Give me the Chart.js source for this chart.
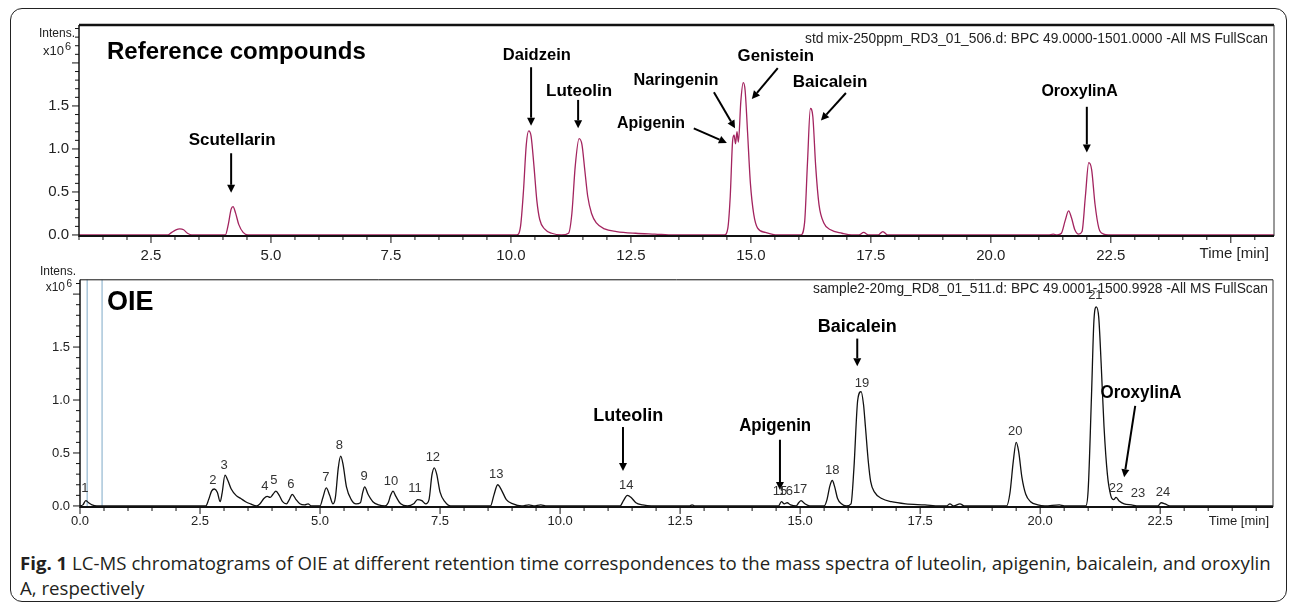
<!DOCTYPE html>
<html>
<head>
<meta charset="utf-8">
<script src="https://cdn.jsdelivr.net/npm/chart.js@4.4.1/dist/chart.umd.min.js"></script>
<style>
  body { margin: 0; background: #fff; width: 1290px; height: 603px; overflow: hidden; position: relative; }
  #frame { position: absolute; left: 10px; top: 8px; width: 1277px; height: 594px; box-sizing: border-box;
           border: 1.5px solid #222; border-radius: 12px; }
  canvas { position: absolute; left: 0; }
  #refChart { top: 0; }
  #sampleChart { top: 262px; }
  #caption { position: absolute; left: 20px; top: 550px; width: 1265px; white-space: nowrap;
             font: 18.65px 'Open Sans', sans-serif; line-height: 25px; color: #231f20; }
  #caption b { font-weight: 700; }
</style>
</head>
<body>
<div id="frame"></div>
<canvas id="refChart" width="1290" height="262"></canvas>
<canvas id="sampleChart" width="1290" height="276"></canvas>
<div id="caption"><b>Fig. 1</b> LC-MS chromatograms of OIE at different retention time correspondences to the mass spectra of luteolin, apigenin, baicalein, and oroxylin<br>A, respectively</div>
<script>
// --- Data: [time (min), intensity (x10^6)] ---
const refTrace = [
  [1.0,0],[2.85,0],[2.93,0.03],[3.02,0.06],[3.1,0.07],[3.18,0.06],[3.26,0.02],[3.35,0],
  [4.05,0],[4.11,0.12],[4.17,0.3],[4.21,0.33],[4.26,0.26],[4.33,0.12],[4.42,0.03],[4.52,0],
  [10.12,0],[10.2,0.1],[10.26,0.5],[10.32,1.05],[10.37,1.21],[10.42,1.15],[10.48,0.8],[10.54,0.4],[10.6,0.18],[10.7,0.07],[10.85,0.02],[11.05,0],
  [11.2,0.02],[11.27,0.25],[11.34,0.8],[11.42,1.12],[11.48,1.05],[11.54,0.75],[11.6,0.45],[11.68,0.25],[11.78,0.14],[11.95,0.07],[12.2,0.04],[12.6,0.02],[13.0,0.01],[13.4,0],
  [14.45,0],[14.52,0.08],[14.57,0.45],[14.62,1.1],[14.65,1.16],[14.68,1.06],[14.71,1.2],[14.74,1.08],[14.79,1.55],[14.84,1.77],[14.88,1.68],[14.93,1.2],[14.99,0.6],[15.06,0.24],[15.14,0.08],[15.3,0.03],[15.55,0],
  [16.04,0],[16.12,0.15],[16.18,0.85],[16.24,1.47],[16.29,1.38],[16.35,0.8],[16.42,0.35],[16.52,0.14],[16.66,0.06],[16.9,0.02],[17.1,0],
  [17.25,0],[17.35,0.03],[17.45,0],[17.65,0],[17.75,0.04],[17.85,0],
  [21.2,0],[21.3,0.01],[21.38,0],[21.47,0.02],[21.55,0.17],[21.62,0.28],[21.68,0.2],[21.75,0.06],[21.83,0.01],
  [21.9,0.04],[21.97,0.45],[22.04,0.84],[22.1,0.76],[22.17,0.36],[22.25,0.08],[22.35,0.01],[22.45,0],[25.9,0]
];

const sampleTrace = [
  [0.0,0],[0.06,0.01],[0.12,0.05],[0.18,0.03],[0.25,0.01],[0.35,0],
  [2.62,0],[2.68,0.06],[2.74,0.14],[2.8,0.16],[2.86,0.13],[2.92,0.04],
  [2.96,0.12],[3.02,0.29],[3.08,0.24],[3.15,0.16],[3.25,0.1],[3.35,0.07],[3.45,0.04],[3.55,0.02],[3.68,0],
  [3.75,0.02],[3.83,0.07],[3.9,0.09],[3.96,0.08],[4.02,0.11],[4.08,0.14],[4.15,0.1],[4.22,0.04],[4.3,0.02],
  [4.36,0.06],[4.42,0.11],[4.5,0.06],[4.58,0.02],[4.68,0.01],[4.75,0.02],[4.82,0],
  [5.0,0],[5.06,0.08],[5.13,0.17],[5.2,0.1],[5.27,0.02],
  [5.32,0.08],[5.38,0.36],[5.43,0.47],[5.48,0.39],[5.55,0.18],[5.65,0.06],[5.75,0.02],
  [5.84,0.03],[5.89,0.13],[5.93,0.18],[6.0,0.11],[6.1,0.04],[6.22,0.01],[6.35,0],
  [6.42,0.03],[6.47,0.1],[6.52,0.14],[6.58,0.09],[6.68,0.02],[6.82,0],
  [6.95,0.02],[7.03,0.06],[7.12,0.05],[7.2,0.02],
  [7.27,0.06],[7.33,0.29],[7.38,0.36],[7.43,0.3],[7.5,0.13],[7.6,0.04],[7.72,0],
  [8.55,0],[8.62,0.1],[8.7,0.2],[8.78,0.15],[8.88,0.06],[9.02,0.02],[9.2,0],[9.35,0.01],[9.45,0],[9.6,0.01],[9.7,0],
  [11.25,0],[11.32,0.05],[11.4,0.1],[11.48,0.08],[11.58,0.03],[11.72,0.01],[11.9,0],
  [12.7,0],[12.75,0.01],[12.8,0],
  [14.55,0],[14.61,0.04],[14.67,0.02],[14.73,0.03],[14.8,0.01],[14.92,0],[14.97,0.03],[15.02,0.05],[15.1,0.02],[15.2,0],
  [15.5,0],[15.56,0.06],[15.62,0.19],[15.67,0.24],[15.72,0.18],[15.78,0.07],[15.86,0.02],[15.96,0],
  [16.06,0.02],[16.12,0.35],[16.2,1.0],[16.27,1.08],[16.32,0.96],[16.36,0.75],[16.42,0.42],[16.47,0.23],[16.55,0.13],[16.7,0.07],[16.9,0.04],[17.2,0.02],[17.6,0.01],[17.9,0],
  [18.05,0],[18.12,0.02],[18.2,0],[18.33,0.02],[18.42,0],
  [19.3,0],[19.37,0.12],[19.44,0.42],[19.5,0.6],[19.55,0.52],[19.62,0.27],[19.7,0.11],[19.8,0.04],[19.95,0.01],[20.1,0],[20.4,0.01],[20.5,0],
  [20.95,0],[21.0,0.15],[21.07,1.05],[21.12,1.75],[21.17,1.88],[21.22,1.78],[21.27,1.35],[21.33,0.75],[21.4,0.3],[21.47,0.1],[21.53,0.06],
  [21.58,0.08],[21.64,0.05],[21.75,0.02],[21.9,0.01],[22.05,0],
  [22.45,0],[22.52,0.03],[22.6,0.02],[22.7,0],[24.85,0]
];

// axis ranges and labelled ticks
const refXRange = [1.0, 25.9];
const refYRange = [-0.012, 2.441];
const sampleXRange = [0, 24.85];
const sampleYRange = [-0.01, 2.135];
const refXTicks = [2.5, 5.0, 7.5, 10.0, 12.5, 15.0, 17.5, 20.0, 22.5];
const sampleXTicks = [0.0, 2.5, 5.0, 7.5, 10.0, 12.5, 15.0, 17.5, 20.0, 22.5];
const yTicks = [0.0, 0.5, 1.0, 1.5];

// peak numbers of the sample trace, anchored in data units
const peakNumbers = ['1','2','3','4','5','6','7','8','9','10','11','12','13','14','15','16','17','18','19','20','21','22','23','24'];
const peakLabelTimes = [0.1,2.77,3.0,3.85,4.04,4.39,5.12,5.4,5.92,6.48,6.98,7.35,8.67,11.38,14.58,14.7,15.0,15.67,16.29,19.48,21.15,21.58,22.04,22.56];
const peakLabelHeights = [0.17,0.24,0.38,0.18,0.24,0.2,0.27,0.57,0.28,0.23,0.17,0.46,0.3,0.19,0.14,0.14,0.155,0.34,1.16,0.7,1.99,0.17,0.12,0.13];

// compound labels with arrows (data units)
const refCompounds = [
  { text: 'Scutellarin', at: [4.19, 1.10], from: [4.17, 0.95], to: [4.17, 0.49] },
  { text: 'Daidzein',    at: [10.54, 2.09], from: [10.42, 1.95], to: [10.42, 1.27] },
  { text: 'Luteolin',    at: [11.42, 1.67], from: [11.40, 1.57], to: [11.40, 1.24] },
  { text: 'Apigenin',    at: [12.92, 1.30], from: [13.81, 1.24], to: [14.50, 1.07] },
  { text: 'Naringenin',  at: [13.44, 1.80], from: [14.23, 1.66], to: [14.67, 1.24] },
  { text: 'Genistein',   at: [15.52, 2.08], from: [15.56, 1.94], to: [15.02, 1.58] },
  { text: 'Baicalein',   at: [16.65, 1.78], from: [16.98, 1.65], to: [16.46, 1.33] },
  { text: 'OroxylinA',   at: [21.85, 1.67], from: [22.00, 1.49], to: [22.00, 0.96] }
];
const sampleCompounds = [
  { text: 'Luteolin',  at: [11.42, 0.85], from: [11.31, 0.745], to: [11.31, 0.33] },
  { text: 'Apigenin',  at: [14.48, 0.75], from: [14.58, 0.625], to: [14.58, 0.15] },
  { text: 'Baicalein', at: [16.19, 1.69], from: [16.19, 1.58], to: [16.19, 1.32] },
  { text: 'OroxylinA', at: [22.10, 1.07], from: [21.98, 0.945], to: [21.75, 0.27] }
];

// light blue markers on the sample trace
const sampleMarkers = [0.15, 0.46];

const SANS = "'Liberation Sans', Arial, sans-serif";

function drawArrow(ctx, x1, y1, x2, y2) {
  const a = Math.atan2(y2 - y1, x2 - x1);
  const head = 8, half = 4;
  ctx.beginPath();
  ctx.moveTo(x1, y1);
  ctx.lineTo(x2 - head * Math.cos(a), y2 - head * Math.sin(a));
  ctx.lineWidth = 2;
  ctx.stroke();
  ctx.beginPath();
  ctx.moveTo(x2, y2);
  ctx.lineTo(x2 - head * Math.cos(a) + half * Math.sin(a), y2 - head * Math.sin(a) - half * Math.cos(a));
  ctx.lineTo(x2 - head * Math.cos(a) - half * Math.sin(a), y2 - head * Math.sin(a) + half * Math.cos(a));
  ctx.closePath();
  ctx.fill();
}

function panelPlugin(p) {
  return {
    id: 'panel',
    beforeDatasetsDraw(chart) {
      const { ctx, chartArea: a, scales: { x } } = chart;
      ctx.save();
      ctx.strokeStyle = '#a9c6da';
      ctx.lineWidth = 1.5;
      (p.markers || []).forEach(t => {
        const px = x.getPixelForValue(t);
        ctx.beginPath(); ctx.moveTo(px, a.top); ctx.lineTo(px, a.bottom); ctx.stroke();
      });
      ctx.restore();
    },
    afterDraw(chart) {
      const { ctx, chartArea: a, scales: { x, y } } = chart;
      ctx.save();
      ctx.strokeStyle = '#111';
      ctx.fillStyle = '#111';

      // frame
      ctx.lineWidth = p.topWidth;
      ctx.beginPath(); ctx.moveTo(a.left, a.top); ctx.lineTo(a.right, a.top); ctx.stroke();
      ctx.lineWidth = 1;
      ctx.strokeStyle = '#333';
      ctx.beginPath(); ctx.moveTo(a.right, a.top); ctx.lineTo(a.right, a.bottom); ctx.stroke();
      ctx.strokeStyle = '#111';
      ctx.lineWidth = 1.5;
      ctx.beginPath(); ctx.moveTo(a.left, a.top); ctx.lineTo(a.left, a.bottom + 1); ctx.stroke();
      ctx.lineWidth = 2;
      ctx.beginPath(); ctx.moveTo(a.left, a.bottom); ctx.lineTo(a.right, a.bottom); ctx.stroke();

      // x ticks: minor every 0.5, major every 2.5
      ctx.lineWidth = 1;
      for (let i = Math.ceil(x.min * 2); i <= x.max * 2; i++) {
        const px = x.getPixelForValue(i / 2);
        const len = i % 5 === 0 ? 7 : 4;
        ctx.beginPath(); ctx.moveTo(px, a.bottom); ctx.lineTo(px, a.bottom + len); ctx.stroke();
      }
      // y ticks: minor every 0.1, major every 0.5
      for (let i = 0; i <= y.max * 10; i++) {
        const py = y.getPixelForValue(i / 10);
        const len = i % 5 === 0 ? 7 : 4;
        ctx.beginPath(); ctx.moveTo(a.left - len, py); ctx.lineTo(a.left, py); ctx.stroke();
      }

      // axis captions
      ctx.fillStyle = '#222';
      ctx.textBaseline = 'middle';
      ctx.textAlign = 'right';
      ctx.font = p.smallFont + 'px ' + SANS;
      ctx.fillText('Intens.', a.left - 4, p.intensY, 36);
      ctx.fillText('x10', a.left - 15, p.expY, 26);
      ctx.font = (p.smallFont - 2) + 'px ' + SANS;
      ctx.fillText('6', a.left - 8, p.expY - 4);
      ctx.font = p.timeFont + 'px ' + SANS;
      ctx.fillText('Time [min]', 1269, p.timeY);

      // file header
      ctx.font = '14px ' + SANS;
      ctx.fillText(p.header, 1268, a.top + p.headerDy, p.headerWidth);

      // panel title
      ctx.fillStyle = '#000';
      ctx.textAlign = 'left';
      ctx.font = 'bold ' + p.titleSize + 'px ' + SANS;
      ctx.fillText(p.title, 107, p.titleY);

      // compound labels and arrows
      ctx.textAlign = 'center';
      ctx.font = 'bold ' + p.labelSize + 'px ' + SANS;
      ctx.strokeStyle = '#000';
      p.compounds.forEach(c => {
        ctx.fillText(c.text, x.getPixelForValue(c.at[0]), y.getPixelForValue(c.at[1]), p.labelSize * c.text.length * 0.5);
        drawArrow(ctx, x.getPixelForValue(c.from[0]), y.getPixelForValue(c.from[1]),
                       x.getPixelForValue(c.to[0]), y.getPixelForValue(c.to[1]));
      });

      // peak numbers
      if (p.peaks) {
        ctx.fillStyle = '#333';
        ctx.font = '13px ' + SANS;
        peakNumbers.forEach((n, i) => {
          ctx.fillText(n, x.getPixelForValue(peakLabelTimes[i]), y.getPixelForValue(peakLabelHeights[i]));
        });
      }
      ctx.restore();
    }
  };
}

function makeChart(id, trace, color, xRange, yRange, xTicks, sizes, plugin) {
  return new Chart(document.getElementById(id), {
    type: 'line',
    data: {
      datasets: [{
        data: trace.map(p => ({ x: p[0], y: p[1] })),
        borderColor: color,
        borderWidth: 1.3,
        pointRadius: 0,
        fill: false,
        cubicInterpolationMode: 'monotone'
      }]
    },
    options: {
      responsive: false,
      animation: false,
      devicePixelRatio: 1,
      layout: { padding: sizes.padding },
      plugins: { legend: { display: false }, tooltip: { enabled: false } },
      scales: {
        x: {
          type: 'linear', min: xRange[0], max: xRange[1],
          grid: { display: false, drawTicks: false },
          border: { display: false },
          ticks: { autoSkip: false, maxRotation: 0, padding: sizes.xPad,
                   color: '#222', font: { family: SANS, size: sizes.tickFont }, callback: v => v.toFixed(1) },
          afterBuildTicks: s => { s.ticks = xTicks.map(v => ({ value: v })); },
          afterFit: s => { s.height = sizes.xHeight; }
        },
        y: {
          min: yRange[0], max: yRange[1],
          grid: { display: false, drawTicks: false },
          border: { display: false },
          ticks: { autoSkip: false, padding: sizes.yPad,
                   color: '#222', font: { family: SANS, size: sizes.tickFont }, callback: v => v.toFixed(1) },
          afterBuildTicks: s => { s.ticks = yTicks.map(v => ({ value: v })); },
          afterFit: s => { s.width = sizes.yWidth; }
        }
      }
    },
    plugins: [plugin]
  });
}

makeChart('refChart', refTrace, '#a3245f', refXRange, refYRange, refXTicks,
  { padding: { top: 25, right: 16, left: 0, bottom: 0 }, xHeight: 26, yWidth: 79, xPad: 11, yPad: 10, tickFont: 15 },
  panelPlugin({
    topWidth: 2.5, smallFont: 13, intensY: 33, expY: 51, timeFont: 15, timeY: 254,
    header: 'std mix-250ppm_RD3_01_506.d: BPC 49.0000-1501.0000 -All MS FullScan', headerDy: 14, headerWidth: 463,
    title: 'Reference compounds', titleSize: 24, titleY: 52,
    labelSize: 17, compounds: refCompounds, peaks: false
  }));

makeChart('sampleChart', sampleTrace, '#111', sampleXRange, sampleYRange, sampleXTicks,
  { padding: { top: 9, right: 17, left: 0, bottom: 0 }, xHeight: 31, yWidth: 80, xPad: 7, yPad: 10, tickFont: 13 },
  panelPlugin({
    topWidth: 1, smallFont: 12, intensY: 10, expY: 26, timeFont: 13, timeY: 259,
    header: 'sample2-20mg_RD8_01_511.d: BPC 49.0001-1500.9928 -All MS FullScan', headerDy: 9, headerWidth: 455,
    title: 'OIE', titleSize: 27, titleY: 41,
    labelSize: 18, compounds: sampleCompounds, peaks: true, markers: sampleMarkers
  }));
</script>
</body>
</html>
